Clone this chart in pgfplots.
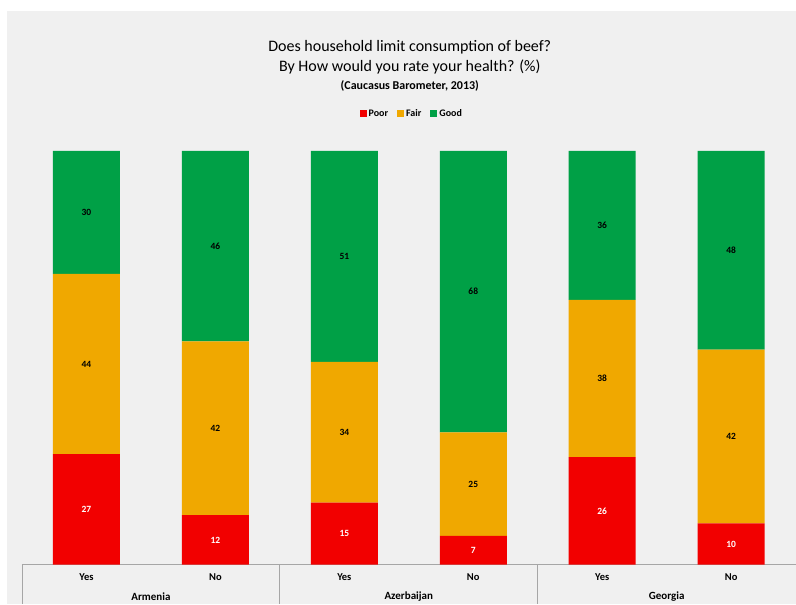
\documentclass[border=0pt]{standalone}
\usepackage{pgfplots}
\pgfplotsset{compat=1.18}
\usepackage{pgfplotstable}
\usepackage{fontspec}
\setmainfont{Carlito}
\definecolor{bgc}{HTML}{F0F0F0}
\definecolor{cpoor}{HTML}{F20000}
\definecolor{cfair}{HTML}{F0A800}
\definecolor{cgood}{HTML}{00A046}
\definecolor{sepc}{HTML}{A6A6A6}
% shares of each bar (100% stacked); L* are the printed labels
\pgfplotstableread{
x Poor Fair Good LPoor LFair LGood
0 26.73 43.56 29.71 27 44 30
1 12 42 46 12 42 46
2 15 34 51 15 34 51
3 7 25 68 7 25 68
4 26 38 36 26 38 36
5 10 42 48 10 42 48
}\datatable
\begin{document}
\begin{tikzpicture}
\fill[white] (-22pt,-39pt) rectangle (774pt,565pt);
\fill[bgc] (-15pt,-39pt) rectangle (774pt,554pt);
\begin{axis}[
  at={(0,0)}, anchor=south west,
  scale only axis, width=774pt, height=414pt,
  ybar stacked, bar width=67pt,
  xmin=-0.5, xmax=5.5, ymin=0, ymax=100,
  hide y axis,
  axis x line*=bottom,
  x axis line style={draw=sepc, line width=0.8pt, -},
  xtick=data,
  xticklabels={Yes,No,Yes,No,Yes,No},
  major tick length=0pt,
  xticklabel style={anchor=center, yshift=-12pt, font=\bfseries\fontsize{10.5}{12}\selectfont},
  /pgf/number format/assume math mode=true,
  point meta=explicit,
  nodes near coords={\pgfmathprintnumber{\pgfplotspointmeta}},
  every node near coord/.append style={anchor=center, font=\bfseries\fontsize{9.5}{10}\selectfont},
  legend style={at={(390pt,451pt)}, anchor=center, draw=none, fill=none,
    legend columns=3, font=\bfseries\fontsize{10}{11}\selectfont,
    /tikz/every even column/.append style={column sep=7pt}},
  legend image code/.code={\fill[#1] (0pt,-3pt) rectangle (7pt,4pt);},
  clip=true,
]
\addplot[fill=cpoor, draw=none, every node near coord/.append style={text=white}] table[x=x,y=Poor,meta=LPoor]{\datatable};
\addplot[fill=cfair, draw=none, every node near coord/.append style={text=black}] table[x=x,y=Fair,meta=LFair]{\datatable};
\addplot[fill=cgood, draw=none, every node near coord/.append style={text=black}] table[x=x,y=Good,meta=LGood]{\datatable};
\legend{Poor,Fair,Good}
\end{axis}
\draw[sepc, line width=0.8pt] (0pt,0pt) -- (0pt,-39pt);
\draw[sepc, line width=0.8pt] (258pt,0pt) -- (258pt,-39pt);
\draw[sepc, line width=0.8pt] (516pt,0pt) -- (516pt,-39pt);
\node[font=\bfseries\fontsize{11}{12}\selectfont] at (129pt,-32pt) {Armenia};
\node[font=\bfseries\fontsize{11}{12}\selectfont] at (387pt,-32pt) {Azerbaijan};
\node[font=\bfseries\fontsize{11}{12}\selectfont] at (645pt,-32pt) {Georgia};
\node[font=\fontsize{16}{18}\selectfont] at (388pt,518pt) {Does household limit consumption of beef?};
\node[font=\fontsize{16}{18}\selectfont] at (388pt,498pt) {By How would you rate your health? (\%)};
\node[font=\bfseries\fontsize{12}{14}\selectfont] at (388pt,479pt) {(Caucasus Barometer, 2013)};
\end{tikzpicture}
\end{document}
